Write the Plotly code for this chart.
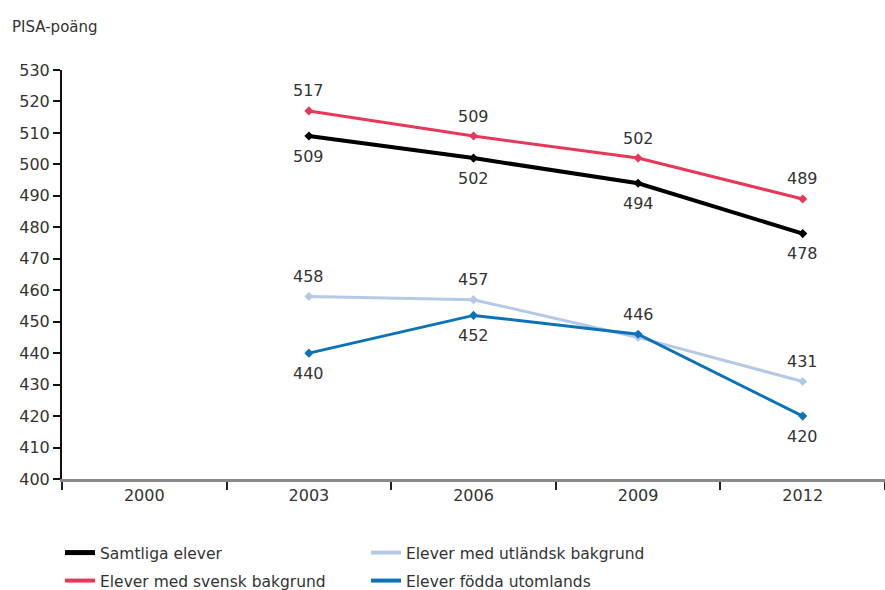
import plotly.graph_objects as go

years = ["2000", "2003", "2006", "2009", "2012"]
data_years = ["2003", "2006", "2009", "2012"]

samtliga = [509, 502, 494, 478]
svensk = [517, 509, 502, 489]
utlandsk = [458, 457, 445, 431]
fodda = [440, 452, 446, 420]

names = ["Samtliga elever", "Elever med svensk bakgrund",
         "Elever med utländsk bakgrund", "Elever födda utomlands"]
colors = ["#000000", "#e8385a", "#b5c9e6", "#0a72b6"]

samtliga_text = [str(v) for v in samtliga]
svensk_text = [str(v) for v in svensk]
utlandsk_text = ["458", "457", "", "431"]
fodda_text = [str(v) for v in fodda]

# +1 = label above point, -1 = label below point
samtliga_pos = [-1, -1, -1, -1]
svensk_pos = [1, 1, 1, 1]
utlandsk_pos = [1, 1, 1, 1]
fodda_pos = [-1, -1, 1, -1]

FONT = "DejaVu Sans, Arial, sans-serif"
TXT = "#333333"
FS = 16

fig = go.Figure()

series = [
    (utlandsk, utlandsk_text, utlandsk_pos, 2, 3, "legend2"),
    (fodda, fodda_text, fodda_pos, 3, 3, "legend4"),
    (svensk, svensk_text, svensk_pos, 1, 3, "legend3"),
    (samtliga, samtliga_text, samtliga_pos, 0, 4, "legend"),
]
annotations = []
for vals, txt, pos, ci, lw, lg in series:
    fig.add_trace(go.Scatter(
        x=data_years, y=vals, name=names[ci],
        mode="lines+markers",
        line=dict(color=colors[ci], width=lw),
        marker=dict(symbol="diamond", size=7, color=colors[ci]),
        showlegend=False, hoverinfo="x+y",
    ))
    # legend-only entry (plain line symbol, no data)
    fig.add_trace(go.Scatter(
        x=[None], y=[None], name=names[ci], mode="lines",
        line=dict(color=colors[ci], width=lw + 1),
        legend=lg, showlegend=True,
    ))
    for xv, yv, t, p in zip(data_years, vals, txt, pos):
        if not t:
            continue
        annotations.append(dict(
            x=years.index(xv), y=yv, xref="x", yref="y", text=t,
            showarrow=False, yshift=20 * p,
            font=dict(size=FS, color=TXT, family=FONT),
        ))

PH = 409.0
PW = 823.0
annotations.append(dict(
    text="PISA-poäng", xref="paper", yref="paper",
    x=(10 - 62) / PW, y=1 + 43 / PH, xanchor="left", yanchor="middle",
    showarrow=False, font=dict(size=15, color=TXT, family=FONT),
))

fig.update_layout(
    width=885, height=590,
    margin=dict(l=62, r=0, t=70, b=111, autoexpand=False),
    paper_bgcolor="white", plot_bgcolor="white",
    font=dict(family=FONT, size=FS, color=TXT),
    showlegend=True,
    xaxis=dict(
        type="category", categoryorder="array", categoryarray=years,
        range=[-0.5, 4.5], tickson="boundaries",
        ticks="outside", ticklen=8, tickwidth=2, tickcolor="#222222",
        showline=True, linecolor="#8a8a8a", linewidth=3,
        showgrid=False, zeroline=False,
        tickfont=dict(size=FS, color=TXT), fixedrange=True,
    ),
    yaxis=dict(
        range=[400, 530], dtick=10, tick0=400,
        ticks="outside", ticklen=7, tickwidth=2, tickcolor="#111111",
        showline=True, linecolor="#111111", linewidth=2,
        showgrid=False, zeroline=False,
        tickfont=dict(size=FS, color=TXT),
    ),
    annotations=annotations,
)

leg_common = dict(bgcolor="rgba(0,0,0,0)", font=dict(size=15.5, color=TXT),
                  xanchor="left", yanchor="middle", itemwidth=30)
fig.update_layout(
    legend=dict(x=(60 - 62) / PW, y=(479 - 553) / PH, **leg_common),
    legend3=dict(x=(60 - 62) / PW, y=(479 - 581) / PH, **leg_common),
    legend2=dict(x=(366 - 62) / PW, y=(479 - 553) / PH, **leg_common),
    legend4=dict(x=(366 - 62) / PW, y=(479 - 581) / PH, **leg_common),
)

fig.write_html("out.html")
